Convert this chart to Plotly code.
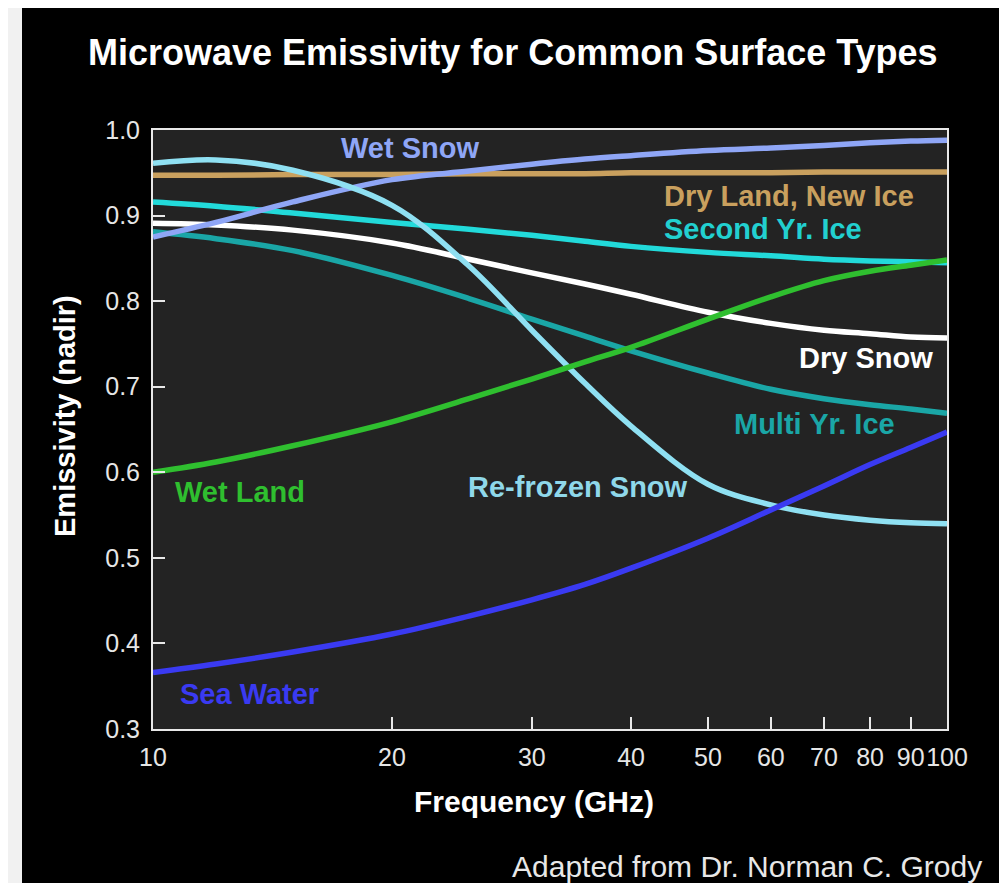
import plotly.graph_objects as go

# ---------------- data ----------------
freq_ghz = [10, 12, 15, 20, 25, 30, 35, 40, 50, 60, 70, 80, 90, 100]

wet_snow       = [0.875, 0.892, 0.916, 0.942, 0.952, 0.960, 0.966, 0.970, 0.976, 0.979, 0.982, 0.985, 0.987, 0.988]
dry_land       = [0.947, 0.947, 0.948, 0.948, 0.949, 0.949, 0.949, 0.950, 0.950, 0.950, 0.951, 0.951, 0.951, 0.951]
second_yr_ice  = [0.916, 0.911, 0.903, 0.892, 0.884, 0.877, 0.870, 0.864, 0.857, 0.853, 0.849, 0.847, 0.846, 0.845]
dry_snow       = [0.891, 0.889, 0.883, 0.868, 0.849, 0.833, 0.820, 0.808, 0.787, 0.774, 0.766, 0.762, 0.758, 0.757]
multi_yr_ice   = [0.881, 0.873, 0.859, 0.830, 0.803, 0.779, 0.759, 0.742, 0.716, 0.697, 0.686, 0.679, 0.674, 0.669]
refrozen_snow  = [0.961, 0.965, 0.953, 0.912, 0.841, 0.766, 0.704, 0.654, 0.586, 0.562, 0.550, 0.544, 0.541, 0.540]
wet_land       = [0.600, 0.612, 0.631, 0.659, 0.686, 0.709, 0.729, 0.746, 0.779, 0.805, 0.824, 0.835, 0.842, 0.848]
sea_water      = [0.366, 0.376, 0.390, 0.411, 0.432, 0.451, 0.469, 0.488, 0.523, 0.556, 0.584, 0.609, 0.629, 0.647]

x_tick_vals = [10, 20, 30, 40, 50, 60, 70, 80, 90, 100]
x_tick_text = ["10", "20", "30", "40", "50", "60", "70", "80", "90", "100"]
y_tick_vals = [0.3, 0.4, 0.5, 0.6, 0.7, 0.8, 0.9, 1.0]

series = [
    ("Dry Land, New Ice", dry_land,      "#c9a05e"),
    ("Second Yr. Ice",    second_yr_ice, "#22dada"),
    ("Dry Snow",          dry_snow,      "#ffffff"),
    ("Multi Yr. Ice",     multi_yr_ice,  "#1aa6a6"),
    ("Wet Snow",          wet_snow,      "#8fa6f6"),
    ("Re-frozen Snow",    refrozen_snow, "#8fe0f2"),
    ("Wet Land",          wet_land,      "#2fbf2f"),
    ("Sea Water",         sea_water,     "#3a3af2"),
]

# ---------------- layout helpers ----------------
# The page body has an 8px margin, so the figure is drawn 8px in from the
# window corner; positions below are given in window pixels.
OFF = 8
WIN_W, WIN_H = 1007, 891
W, H = WIN_W - 2 * OFF, WIN_H - 2 * OFF
L, R, T, B = 153, 947, 130, 729          # plot area in window pixels


def px(xp):
    return (xp - L) / (R - L)


def py(yp):
    return (B - yp) / (B - T)


FONT = "Liberation Sans, Arial, Helvetica, sans-serif"

fig = go.Figure()
for name, vals, col in series:
    fig.add_trace(go.Scatter(
        x=freq_ghz, y=vals, mode="lines", name=name,
        line=dict(color=col, width=5.5, shape="spline", smoothing=1.0),
        showlegend=False, hoverinfo="x+y+name",
    ))

# label annotations: (text, x px, center y px, anchor, color)
labels = [
    ("Wet Snow",          410, 148, "center", "#8fa6f6"),
    ("Dry Land, New Ice", 662, 196, "left",   "#c9a05e"),
    ("Second Yr. Ice",    662, 229, "left",   "#22d0d0"),
    ("Dry Snow",          797, 358, "left",   "#ffffff"),
    ("Multi Yr. Ice",     732, 424, "left",   "#1aa6a6"),
    ("Re-frozen Snow",    466, 487, "left",   "#8fd8ea"),
    ("Wet Land",          173, 492, "left",   "#2fbf2f"),
    ("Sea Water",         178, 694, "left",   "#3a3af2"),
]
annotations = []
for text, xp, yp, anc, col in labels:
    annotations.append(dict(
        text=text, xref="paper", yref="paper", x=px(xp), y=py(yp),
        xanchor=anc, yanchor="middle", showarrow=False,
        font=dict(family=FONT, size=29, color=col, weight="bold"),
    ))

annotations += [
    dict(text="Microwave Emissivity for Common Surface Types", xref="paper", yref="paper",
         x=px(513), y=py(52), xanchor="center", yanchor="middle", showarrow=False,
         font=dict(family=FONT, size=36, color="#ffffff", weight="bold")),
    dict(text="Frequency (GHz)", xref="paper", yref="paper",
         x=px(534), y=py(801), xanchor="center", yanchor="middle", showarrow=False,
         font=dict(family=FONT, size=30, color="#ffffff", weight="bold")),
    dict(text="Emissivity (nadir)", xref="paper", yref="paper", textangle=-90,
         x=px(65), y=py(416), xanchor="center", yanchor="middle", showarrow=False,
         font=dict(family=FONT, size=29, color="#ffffff", weight="bold")),
    dict(text="Adapted from Dr. Norman C. Grody", xref="paper", yref="paper",
         x=px(984), y=py(866), xanchor="right", yanchor="middle", showarrow=False,
         font=dict(family=FONT, size=30, color="#e8e8e8")),
]

# light page border strip on the left of the black panel
edge = "#f1f1f1"
shapes = [
    dict(type="rect", xref="paper", yref="paper", x0=px(0), x1=px(22), y0=py(WIN_H), y1=py(0),
         fillcolor=edge, line=dict(width=0), layer="below"),
]

fig.update_layout(
    width=W, height=H,
    margin=dict(l=L - OFF, r=W - (R - OFF), t=T - OFF, b=H - (B - OFF), pad=0),
    paper_bgcolor="#000000",
    plot_bgcolor="#232323",
    annotations=annotations,
    shapes=shapes,
    font=dict(family=FONT, color="#e6e6e6"),
)
fig.update_xaxes(
    type="log", range=[1, 2],
    tickvals=x_tick_vals, ticktext=x_tick_text, tickangle=0,
    ticks="inside", ticklen=12, tickwidth=2, tickcolor="#e8e8e8",
    showline=True, linecolor="#e8e8e8", linewidth=2, mirror=True,
    showgrid=False, zeroline=False,
    tickfont=dict(family=FONT, size=25, color="#e6e6e6"),
    ticklabelstandoff=5,
)
fig.update_yaxes(
    range=[0.3, 1.0],
    tickvals=y_tick_vals, tickformat=".1f",
    ticks="inside", ticklen=12, tickwidth=2, tickcolor="#e8e8e8",
    showline=True,
    linecolor="#e8e8e8", linewidth=2, mirror=True,
    showgrid=False, zeroline=False,
    tickfont=dict(family=FONT, size=25, color="#e6e6e6"),
    ticklabelstandoff=6,
)

fig.write_html("out.html")
